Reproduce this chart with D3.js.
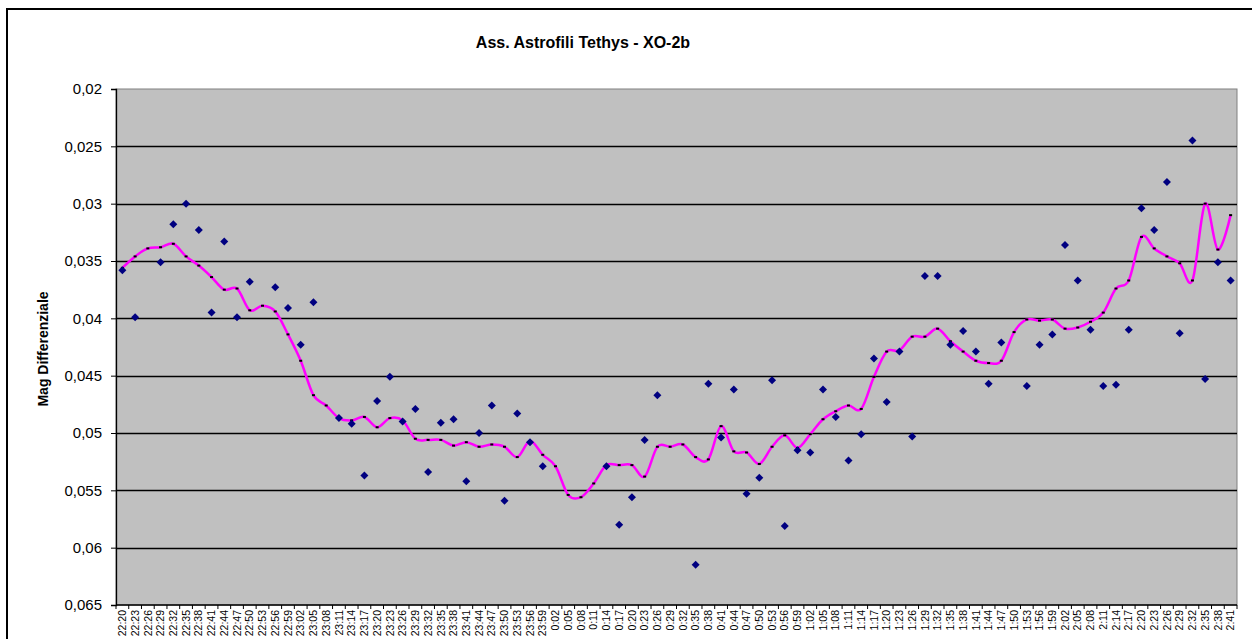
<!DOCTYPE html>
<html>
<head>
<meta charset="utf-8">
<script src="https://cdn.jsdelivr.net/npm/d3@7"></script>
<style>
    body { margin: 0; background: #fff; }
    svg { display: block; font-family: "Liberation Sans", Arial, sans-serif; }
</style>
</head>
<body>
<svg id="chart" width="1252" height="639"></svg>
<script>
// category labels (observation times)
const timeLabels = [
    "22:20", "22:23", "22:26", "22:29", "22:32", "22:35", "22:38", "22:41", "22:44", "22:47",
    "22:50", "22:53", "22:56", "22:59", "23:02", "23:05", "23:08", "23:11", "23:14", "23:17",
    "23:20", "23:23", "23:26", "23:29", "23:32", "23:35", "23:38", "23:41", "23:44", "23:47",
    "23:50", "23:53", "23:56", "23:59", "0:02", "0:05", "0:08", "0:11", "0:14", "0:17",
    "0:20", "0:23", "0:26", "0:29", "0:32", "0:35", "0:38", "0:41", "0:44", "0:47",
    "0:50", "0:53", "0:56", "0:59", "1:02", "1:05", "1:08", "1:11", "1:14", "1:17",
    "1:20", "1:23", "1:26", "1:29", "1:32", "1:35", "1:38", "1:41", "1:44", "1:47",
    "1:50", "1:53", "1:56", "1:59", "2:02", "2:05", "2:08", "2:11", "2:14", "2:17",
    "2:20", "2:23", "2:26", "2:29", "2:32", "2:35", "2:38", "2:41"
];

// differential magnitude (diamonds), null = no point
const magDiff = [
    0.0358, 0.0399, null, 0.0351, 0.0318, 0.0300, 0.0323, 0.0395, 0.0333, 0.0399,
    0.0368, null, 0.0373, 0.0391, 0.0423, 0.0386, null, 0.0487, 0.0492, 0.0537,
    0.0472, 0.0451, 0.0490, 0.0479, 0.0534, 0.0491, 0.0488, 0.0542, 0.0500, 0.0476,
    0.0559, 0.0483, 0.0508, 0.0529, null, null, null, null, 0.0529, 0.0580,
    0.0556, 0.0506, 0.0467, null, null, 0.0615, 0.0457, 0.0504, 0.0462, 0.0553,
    0.0539, 0.0454, 0.0581, 0.0515, 0.0517, 0.0462, 0.0486, 0.0524, 0.0501, 0.0435,
    0.0473, 0.0429, 0.0503, 0.0363, 0.0363, 0.0423, 0.0411, 0.0429, 0.0457, 0.0421,
    null, 0.0459, 0.0423, 0.0414, 0.0336, 0.0367, 0.0410, 0.0459, 0.0458, 0.0410,
    0.0304, 0.0323, 0.0281, 0.0413, 0.0245, 0.0453, 0.0351, 0.0367
];

// moving average (magenta line)
const movingAvg = [
    0.0356, 0.0346, 0.0339, 0.0338, 0.0335, 0.0346, 0.0354, 0.0364, 0.0375, 0.0374,
    0.0393, 0.0389, 0.0394, 0.0414, 0.0437, 0.0467, 0.0476, 0.0487, 0.0489, 0.0486,
    0.0495, 0.0487, 0.0489, 0.0505, 0.0506, 0.0506, 0.0511, 0.0508, 0.0512, 0.0510,
    0.0512, 0.0521, 0.0507, 0.0519, 0.0529, 0.0554, 0.0556, 0.0544, 0.0528, 0.0528,
    0.0528, 0.0538, 0.0512, 0.0512, 0.0510, 0.0521, 0.0523, 0.0494, 0.0516, 0.0517,
    0.0527, 0.0512, 0.0502, 0.0513, 0.0501, 0.0488, 0.0481, 0.0476, 0.0479, 0.0451,
    0.0429, 0.0428, 0.0416, 0.0416, 0.0409, 0.0420, 0.0429, 0.0437, 0.0439, 0.0437,
    0.0412, 0.0401, 0.0402, 0.0401, 0.0409, 0.0408, 0.0403, 0.0395, 0.0374, 0.0367,
    0.0329, 0.0339, 0.0346, 0.0352, 0.0367, 0.0300, 0.0340, 0.0310
];

const yTicks = [0.02, 0.025, 0.03, 0.035, 0.04, 0.045, 0.05, 0.055, 0.06, 0.065];

const svg = d3.select("#chart");
const plot = {left: 116, top: 89, right: 1237, bottom: 605};

// outer chart frame (runs off the picture on right and bottom)
svg.append("rect")
    .attr("x", 7).attr("y", 9)
    .attr("width", 1400).attr("height", 800)
    .attr("fill", "#fff")
    .attr("stroke", "#000")
    .attr("stroke-width", 2);

let x = d3.scaleBand()
    .domain(timeLabels)
    .range([plot.left, plot.right])
    .padding(0);

let y = d3.scaleLinear()
    .domain([0.02, 0.065])
    .range([plot.top, plot.bottom]);

// plot area
svg.append("rect")
    .attr("x", plot.left).attr("y", plot.top)
    .attr("width", plot.right - plot.left)
    .attr("height", plot.bottom - plot.top)
    .attr("fill", "#c0c0c0")
    .attr("stroke", "#808080")
    .attr("stroke-width", 1);

// gridlines
svg.selectAll(".grid")
    .data(yTicks.slice(1, -1))
    .enter()
    .append("line")
    .attr("class", "grid")
    .attr("x1", plot.left).attr("x2", plot.right)
    .attr("y1", d => Math.round(y(d)) + 0.5)
    .attr("y2", d => Math.round(y(d)) + 0.5)
    .attr("stroke", "#000")
    .attr("stroke-width", 1.3);

// y axis
let fmt = d => String(+d.toFixed(3)).replace(".", ",");
let yAxis = svg.append("g")
    .attr("transform", `translate(${plot.left},0)`)
    .call(d3.axisLeft(y).tickValues(yTicks).tickFormat(fmt).tickSize(5).tickPadding(9));
yAxis.select(".domain").attr("stroke", "#000").attr("stroke-width", 1.3);
yAxis.selectAll(".tick line").attr("stroke", "#000");
yAxis.selectAll("text")
    .attr("font-size", 15)
    .attr("fill", "#000");

// x axis
svg.append("line")
    .attr("x1", plot.left).attr("x2", plot.right)
    .attr("y1", plot.bottom).attr("y2", plot.bottom)
    .attr("stroke", "#000").attr("stroke-width", 1.3);

let xTickPos = timeLabels.map(d => x(d)).concat([plot.right]);
svg.selectAll(".xtick")
    .data(xTickPos)
    .enter()
    .append("line")
    .attr("class", "xtick")
    .attr("x1", d => d).attr("x2", d => d)
    .attr("y1", plot.bottom).attr("y2", plot.bottom + 4)
    .attr("stroke", "#000");

svg.selectAll(".xlabel")
    .data(timeLabels)
    .enter()
    .append("text")
    .attr("class", "xlabel")
    .attr("transform", d => `translate(${x(d) + x.bandwidth() / 2},${plot.bottom + 5}) rotate(-90)`)
    .attr("dy", "0.35em")
    .attr("text-anchor", "end")
    .attr("font-size", 10.5)
    .text(d => d);

// moving average line
let line = d3.line()
    .x((d, i) => x(timeLabels[i]) + x.bandwidth() / 2)
    .y(d => y(d))
    .curve(d3.curveCardinal.tension(0));

svg.append("path")
    .datum(movingAvg)
    .attr("d", line)
    .attr("fill", "none")
    .attr("stroke", "#ff00ff")
    .attr("stroke-width", 2.5);

svg.selectAll(".avgmark")
    .data(movingAvg)
    .enter()
    .append("rect")
    .attr("class", "avgmark")
    .attr("x", (d, i) => x(timeLabels[i]) + x.bandwidth() / 2 - 1.5)
    .attr("y", d => y(d) - 1)
    .attr("width", 3)
    .attr("height", 2)
    .attr("fill", "#000");

// data points
let points = magDiff.map((v, i) => ({label: timeLabels[i], value: v}))
    .filter(d => d.value !== null);

svg.selectAll(".pt")
    .data(points)
    .enter()
    .append("path")
    .attr("class", "pt")
    .attr("transform", d => `translate(${x(d.label) + x.bandwidth() / 2},${y(d.value)})`)
    .attr("d", "M0,-4L4,0L0,4L-4,0Z")
    .attr("fill", "#000080");

// titles
svg.append("text")
    .attr("x", 583).attr("y", 48)
    .attr("text-anchor", "middle")
    .attr("font-size", 16)
    .attr("font-weight", "bold")
    .text("Ass. Astrofili Tethys - XO-2b");

svg.append("text")
    .attr("transform", "translate(48,349) rotate(-90)")
    .attr("text-anchor", "middle")
    .attr("font-size", 14)
    .attr("font-weight", "bold")
    .text("Mag Differenziale");
</script>
</body>
</html>
